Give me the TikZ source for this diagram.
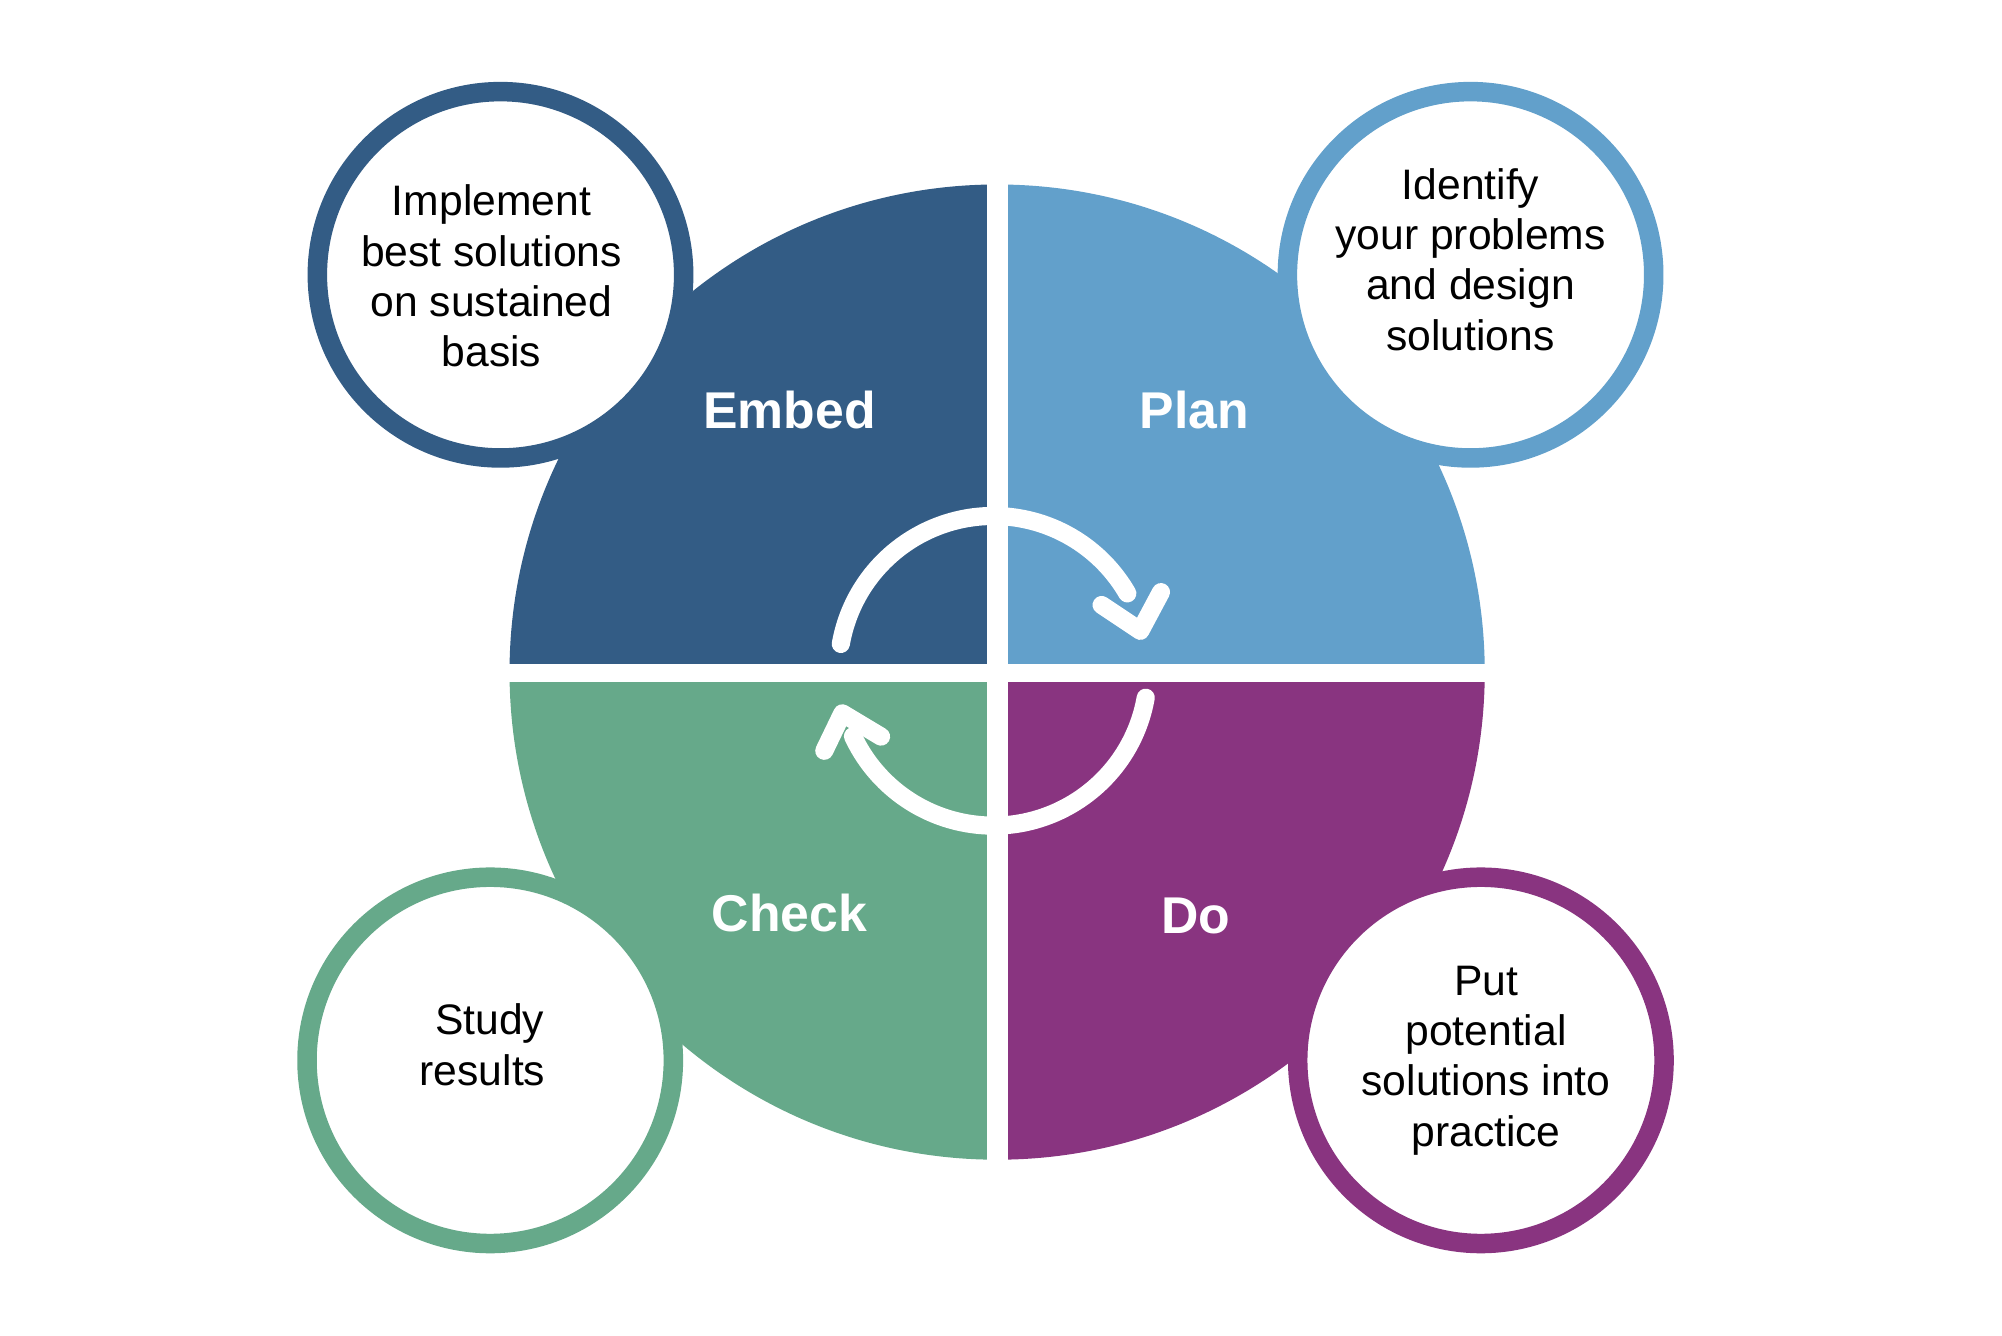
\documentclass[tikz,border=0pt]{standalone}
\usepackage{fontspec}
\setmainfont{Liberation Sans}
\definecolor{cE}{HTML}{335C85}
\definecolor{cP}{HTML}{62A0CB}
\definecolor{cC}{HTML}{66A98A}
\definecolor{cD}{HTML}{893480}
\begin{document}
\begin{tikzpicture}[x=0.01cm,y=-0.01cm,
  lbl/.style={text=white,font=\fontsize{11.4pt}{13pt}\selectfont\bfseries},
  txt/.style={align=center,font=\fontsize{9.4pt}{11.1pt}\selectfont},
  ring/.style={draw=#1,fill=white,line width=4.3pt},
  arr/.style={draw=white,line width=4pt,line cap=round,line join=round}]
\useasboundingbox (0,0) rectangle (1552,1035);
\fill[cE] (773,521) -- (395,521) arc[start angle=180,end angle=270,radius=378] -- cycle;
\fill[cP] (773,521) -- (773,143) arc[start angle=270,end angle=360,radius=378] -- cycle;
\fill[cD] (773,521) -- (1151,521) arc[start angle=0,end angle=90,radius=378] -- cycle;
\fill[cC] (773,521) -- (773,899) arc[start angle=90,end angle=180,radius=378] -- cycle;
\draw[white,line width=4.6pt] (773,130) -- (773,910);
\draw[white,line width=4pt] (380,522) -- (1165,522);
\draw[ring=cE] (388,213) circle[radius=142];
\draw[ring=cP] (1140,213) circle[radius=142];
\draw[ring=cC] (380,822) circle[radius=142];
\draw[ring=cD] (1148,822) circle[radius=142];
\node[lbl] (le) at (612,318) {Embed};
\node[lbl] (lp) at (926,318) {Plan};
\node[lbl] (lc) at (612,708) {Check};
\node[lbl] (ld) at (927,710) {Do};
\node[txt] (te) at (381,214) {Implement\\best solutions\\on sustained\\basis};
\node[txt] (tp) at (1140,201) {Identify\\your problems\\and design\\solutions};
\node[txt] (tc) at (374,810) {\,\,Study\\results};
\node[txt] (td) at (1152,822) {Put\\potential\\solutions into\\practice};
\coordinate (c0) at (770,520);
\draw[arr] (c0) ++(190:120) arc[start angle=190,end angle=330,radius=120];
\draw[arr] (854,469) -- (884,489) -- (900,459);
\draw[arr] (c0) ++(10:120) arc[start angle=10,end angle=155,radius=120];
\draw[arr] (683,571) -- (653,553) -- (639,582);
\end{tikzpicture}
\end{document}
